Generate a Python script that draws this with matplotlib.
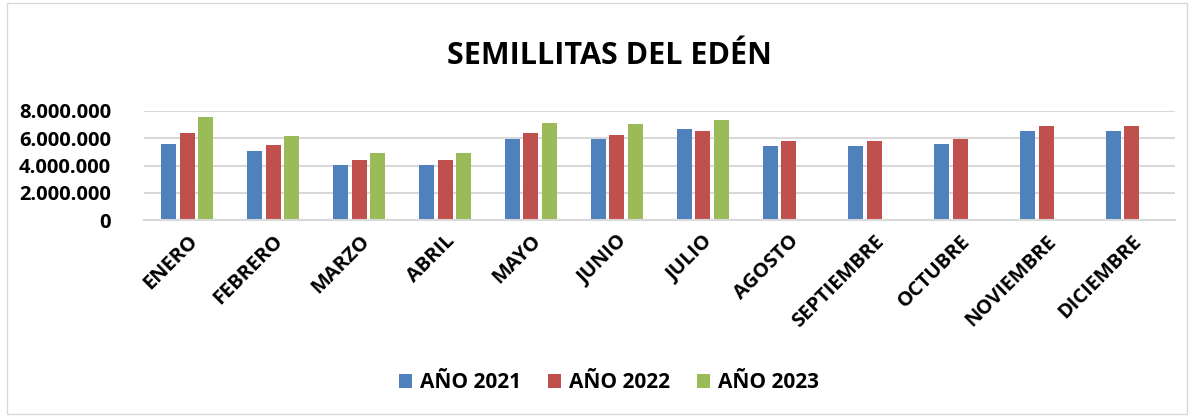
import numpy as np
import matplotlib.pyplot as plt
from matplotlib.patches import Rectangle

meses = ["ENERO", "FEBRERO", "MARZO", "ABRIL", "MAYO", "JUNIO", "JULIO",
         "AGOSTO", "SEPTIEMBRE", "OCTUBRE", "NOVIEMBRE", "DICIEMBRE"]
anio_2021 = [5600000, 5090000, 4050000, 4050000, 5920000, 5920000, 6710000,
             5450000, 5450000, 5580000, 6510000, 6510000]
anio_2022 = [6410000, 5530000, 4400000, 4400000, 6360000, 6270000, 6510000,
             5800000, 5800000, 5920000, 6900000, 6900000]
anio_2023 = [7570000, 6190000, 4910000, 4910000, 7150000, 7050000, 7300000]

plt.rcParams['font.family'] = ['Open Sans', 'DejaVu Sans']
plt.rcParams['font.weight'] = 'bold'

fig = plt.figure(figsize=(11.94, 4.17), dpi=100)
ax = fig.add_axes([0.121, 0.472, 0.863, 0.262])

x = np.arange(len(meses))
w = 0.175
step = 0.215
ax.bar(x - step, anio_2021, w, color='#4f81bd', label='AÑO 2021')
ax.bar(x, anio_2022, w, color='#c0504d', label='AÑO 2022')
ax.bar(np.arange(len(anio_2023)) + step, anio_2023, w, color='#9bbb59', label='AÑO 2023')

ax.set_xlim(-0.5, len(meses) - 0.5)
ax.set_ylim(0, 8000000)
ax.set_yticks([0, 2000000, 4000000, 6000000, 8000000])
ax.set_yticklabels(['0', '2.000.000', '4.000.000', '6.000.000', '8.000.000'],
                   fontsize=14.5, fontweight='bold')
ax.set_xticks(x)
ax.set_xticklabels(meses, rotation=45, ha='right', rotation_mode='anchor',
                   fontsize=14.5, fontweight='bold')
ax.tick_params(axis='y', length=0, pad=24)
ax.tick_params(axis='x', length=0, pad=8)
ax.grid(axis='y', color='#d9d9d9', linewidth=1.5)
ax.set_axisbelow(True)
for s in ['top', 'right', 'left']:
    ax.spines[s].set_visible(False)
ax.spines['bottom'].set_color('#d9d9d9')
ax.spines['bottom'].set_linewidth(1.5)

fig.text(0.51, 0.865, 'SEMILLITAS DEL EDÉN', ha='center', va='center',
         fontsize=22, fontweight='bold')
fig.legend(loc='center', bbox_to_anchor=(0.51, 0.082), ncol=3, frameon=False,
           prop={'size': 15, 'weight': 'bold'}, handlelength=0.6,
           handleheight=0.6, columnspacing=1.3, handletextpad=0.4)

fig.patches.append(Rectangle((0.006, 0.008), 0.988, 0.984, transform=fig.transFigure,
                             fill=False, edgecolor='#d9d9d9', linewidth=1))

fig.savefig('out.png', dpi=100)
